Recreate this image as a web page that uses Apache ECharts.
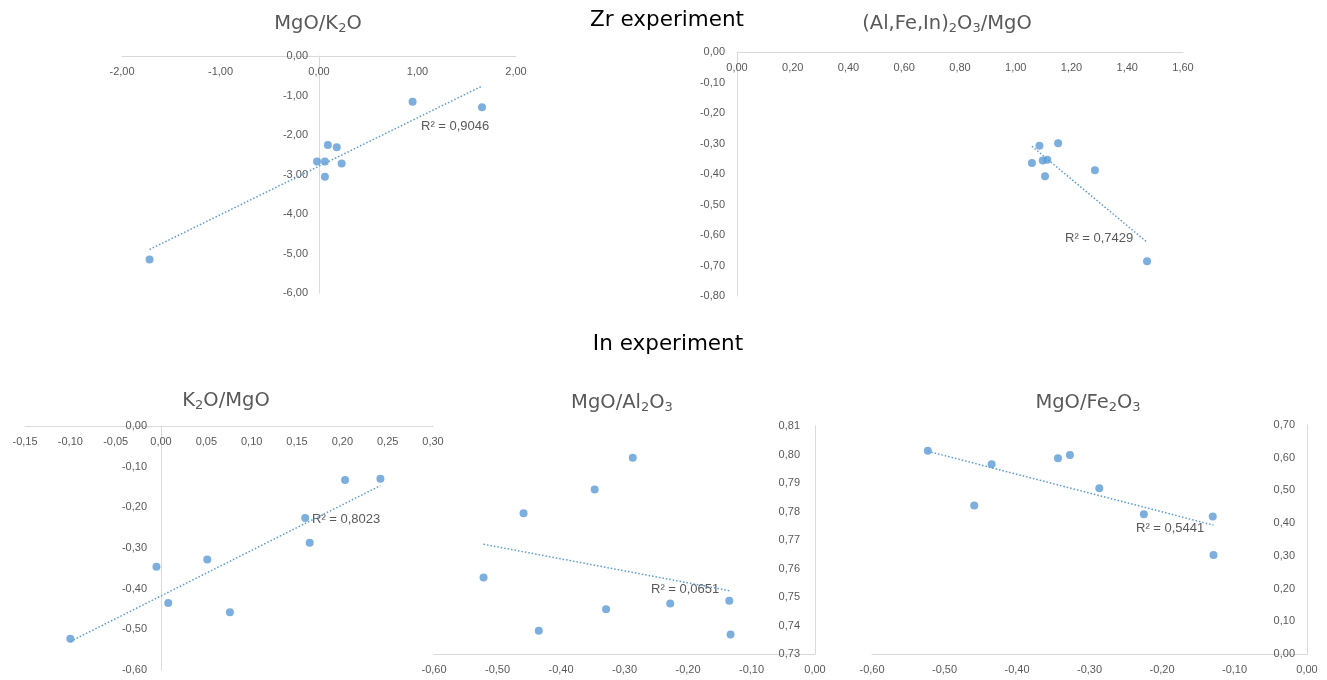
<!DOCTYPE html>
<html>
<head>
<meta charset="utf-8">
<script src="https://cdn.jsdelivr.net/npm/echarts@6/dist/echarts.min.js"></script>
<style>
html,body{margin:0;padding:0;background:#fff;}
#main{width:1327px;height:680px;}
</style>
</head>
<body>
<div id="main"></div>
<script>
//Zr experiment
var zrK2oX=[-1.72,0.95,1.655,0.09,0.18,-0.02,0.06,0.23,0.06];
var zrK2oY=[-5.15,-1.16,-1.30,-2.25,-2.31,-2.67,-2.67,-2.72,-3.06];
var zrMgoX=[1.085,1.152,1.058,1.097,1.113,1.105,1.284,1.471];
var zrMgoY=[-0.307,-0.299,-0.364,-0.356,-0.353,-0.407,-0.388,-0.686];
//In experiment
var inK2oX=[-0.100,-0.005,0.008,0.051,0.076,0.159,0.164,0.203,0.242];
var inK2oY=[-0.523,-0.346,-0.435,-0.328,-0.458,-0.226,-0.287,-0.133,-0.130];
var inAlX=[-0.522,-0.459,-0.435,-0.347,-0.329,-0.287,-0.228,-0.135,-0.133];
var inAlY=[0.7568,0.7794,0.7382,0.7877,0.7457,0.7989,0.7477,0.7487,0.7368];
var inFeX=[-0.523,-0.459,-0.435,-0.3435,-0.327,-0.2865,-0.225,-0.130,-0.129];
var inFeY=[0.621,0.454,0.580,0.598,0.608,0.507,0.427,0.420,0.303];
//R² values shown on the charts
var r2Labels=["0,9046","0,7429","0,8023","0,0651","0,5441"];
//axis ranges: [min,max,interval]
var xRanges=[[-2,2,1],[0,1.6,0.2],[-0.15,0.3,0.05],[-0.6,0,0.1],[-0.6,0,0.1]];
var yRanges=[[-6,0,1],[-0.8,0,0.1],[-0.6,0,0.1],[0.73,0.81,0.01],[0,0.7,0.1]];
var groupTitles=["Zr experiment","In experiment"];

var dataX=[zrK2oX,zrMgoX,inK2oX,inAlX,inFeX];
var dataY=[zrK2oY,zrMgoY,inK2oY,inAlY,inFeY];

var blue="#5b9bd5",
	gray="#595959",
	lineGray="#d9d9d9";

//grid boxes in pixels, yMargin = gap between y labels and axis line
var grids=[
	{left:122,top:56,width:394,height:237,yMargin:11},
	{left:737,top:52,width:446,height:244,yMargin:12},
	{left:25,top:426,width:408,height:244,yMargin:14},
	{left:434,top:426,width:381,height:228,yMargin:15},
	{left:872,top:425,width:435,height:229,yMargin:12}
];
//chart titles (rich text for subscripts)
var chartTitles=[
	{text:"{a|MgO/K}{s|2}{a|O}",x:313,y:7},
	{text:"{a|(Al,Fe,In)}{s|2}{a|O}{s|3}{a|/MgO}",x:942,y:7},
	{text:"{a|K}{s|2}{a|O/MgO}",x:221,y:384},
	{text:"{a|MgO/Al}{s|2}{a|O}{s|3}",x:617,y:386},
	{text:"{a|MgO/Fe}{s|2}{a|O}{s|3}",x:1083,y:386}
];
//R² label boxes
var r2Pos=[[421,120],[1065,232],[312,513],[651,583],[1136,522]];

function fmt(v){
	return v.toFixed(2).replace(".",",");
}

//linear least squares trend line, from min x to max x
function trend(xs,ys){
	var n=xs.length,mx=0,my=0,sxy=0,sxx=0;
	for(var i=0;i<n;i++){mx+=xs[i];my+=ys[i];}
	mx/=n;my/=n;
	for(var i=0;i<n;i++){
		sxy+=(xs[i]-mx)*(ys[i]-my);
		sxx+=(xs[i]-mx)*(xs[i]-mx);
	}
	var b=sxy/sxx,a=my-b*mx;
	var x0=Math.min.apply(null,xs),x1=Math.max.apply(null,xs);
	return [[x0,a+b*x0],[x1,a+b*x1]];
}

//pixel distance of value 0 from the start of a range (Excel style axis crossing)
function zeroOffset(r,len){
	if(r[0]>0||r[1]<0) return 0;
	return (0-r[0])/(r[1]-r[0])*len;
}

var titles=[
	{text:groupTitles[0],left:662,top:4,textAlign:"center",textStyle:{fontFamily:"DejaVu Sans",fontSize:21.5,fontWeight:"normal",color:"#000"}},
	{text:groupTitles[1],left:663,top:328,textAlign:"center",textStyle:{fontFamily:"DejaVu Sans",fontSize:21.5,fontWeight:"normal",color:"#000"}}
];
var xAxes=[],yAxes=[],series=[],graphics=[];
for(var i=0;i<5;i++){
	titles.push({
		text:chartTitles[i].text,
		left:chartTitles[i].x,
		top:chartTitles[i].y,
		textAlign:"center",
		textStyle:{
			fontWeight:"normal",
			rich:{
				a:{fontFamily:"DejaVu Sans",fontSize:19.5,fontWeight:"normal",color:gray},
				s:{fontFamily:"DejaVu Sans",fontSize:13,fontWeight:"normal",color:gray,padding:[10,0,0,0]}
			}
		}
	});
	xAxes.push({
		type:"value",
		gridIndex:i,
		position:"bottom",
		offset:-zeroOffset(yRanges[i],grids[i].height),
		min:xRanges[i][0],
		max:xRanges[i][1],
		interval:xRanges[i][2],
		axisLine:{onZero:false,lineStyle:{color:lineGray}},
		axisTick:{show:false},
		splitLine:{show:false},
		axisLabel:{color:gray,fontSize:11,fontFamily:"Liberation Sans",margin:10,formatter:fmt}
	});
	yAxes.push({
		type:"value",
		gridIndex:i,
		position:"left",
		offset:-zeroOffset(xRanges[i],grids[i].width),
		min:yRanges[i][0],
		max:yRanges[i][1],
		interval:yRanges[i][2],
		axisLine:{onZero:false,lineStyle:{color:lineGray}},
		axisTick:{show:false},
		splitLine:{show:false},
		axisLabel:{color:gray,fontSize:11,fontFamily:"Liberation Sans",margin:grids[i].yMargin,formatter:fmt}
	});
	var pts=[];
	for(var j=0;j<dataX[i].length;j++){
		pts.push([dataX[i][j],dataY[i][j]]);
	}
	series.push({
		type:"line",
		xAxisIndex:i,
		yAxisIndex:i,
		data:trend(dataX[i],dataY[i]),
		showSymbol:false,
		silent:true,
		lineStyle:{color:blue,width:1.5,type:[1.5,2]},
		z:1
	});
	series.push({
		type:"scatter",
		xAxisIndex:i,
		yAxisIndex:i,
		data:pts,
		symbolSize:8,
		itemStyle:{color:blue},
		z:2
	});
	graphics.push({
		type:"text",
		left:r2Pos[i][0],
		top:r2Pos[i][1],
		style:{text:"R² = "+r2Labels[i],fill:gray,fontSize:13,fontFamily:"Liberation Sans"}
	});
}
var gridList=[];
for(var i=0;i<grids.length;i++){
	gridList.push({left:grids[i].left,top:grids[i].top,width:grids[i].width,height:grids[i].height,containLabel:false,outerBoundsMode:"none"});
}

var myChart=echarts.init(document.getElementById("main"));
myChart.setOption({
	animation:false,
	backgroundColor:"#fff",
	title:titles,
	grid:gridList,
	xAxis:xAxes,
	yAxis:yAxes,
	series:series,
	graphic:graphics
});
</script>
</body>
</html>
